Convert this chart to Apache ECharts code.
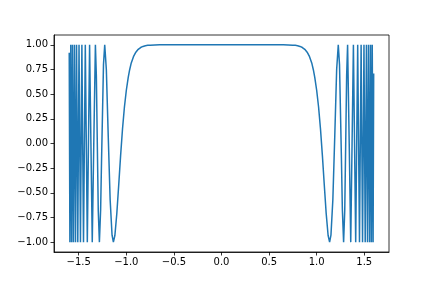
<!DOCTYPE html>
<html>
<head>
<meta charset="utf-8">
<script src="https://cdn.jsdelivr.net/npm/echarts@6/dist/echarts.min.js"></script>
<style>html,body{margin:0;padding:0;background:#fff}#c{width:432px;height:288px}</style>
</head>
<body>
<div id="c"></div>
<script>
// Curve samples (x, y)
const xValues = [
  -1.600, -1.593, -1.584, -1.575, -1.566, -1.556, -1.545, -1.534, -1.523, -1.510,
  -1.497, -1.482, -1.467, -1.450, -1.431, -1.410, -1.386, -1.372, -1.358, -1.342,
  -1.325, -1.315, -1.305, -1.295, -1.283, -1.270, -1.260, -1.240, -1.227, -1.210,
  -1.190, -1.170, -1.150, -1.136, -1.120, -1.100, -1.080, -1.060, -1.040, -1.020,
  -1.000, -0.980, -0.965, -0.950, -0.925, -0.900, -0.875, -0.850, -0.825, -0.800,
  -0.775, -0.750, -0.700, -0.650, -0.600, 0.000,
  0.600, 0.650, 0.700, 0.750, 0.775, 0.800, 0.825, 0.850, 0.875, 0.900,
  0.925, 0.950, 0.965, 0.980, 1.000, 1.020,
  1.040, 1.060, 1.080, 1.100, 1.120, 1.136, 1.150, 1.170, 1.190, 1.210,
  1.227, 1.240, 1.260, 1.270, 1.283, 1.295, 1.305, 1.315, 1.325, 1.342,
  1.358, 1.372, 1.386, 1.410, 1.431, 1.450, 1.467, 1.482, 1.497, 1.510,
  1.523, 1.534, 1.545, 1.556, 1.566, 1.575, 1.584, 1.593, 1.599
];
const yValues = [
  0.92, -1, 1, -1, 1, -1, 1, -1, 1, -1,
  1, -1, 1, -1, 1, -1, 1, 0, -1, 0,
  1, 0.69, 0, -0.68, -1, -0.67, -0.15, 0.80, 1, 0.75,
  0.07, -0.57, -0.93, -1, -0.93, -0.71, -0.42, -0.12, 0.15, 0.37,
  0.54, 0.67, 0.748, 0.81, 0.880, 0.926, 0.955, 0.973, 0.984, 0.991,
  0.995, 0.997, 0.999, 1, 1, 1,
  1, 1, 0.999, 0.997, 0.995, 0.991, 0.984, 0.973, 0.955, 0.926,
  0.880, 0.81, 0.748, 0.67, 0.54, 0.37,
  0.15, -0.12, -0.42, -0.71, -0.93, -1, -0.93, -0.57, 0.07, 0.75,
  1, 0.80, -0.15, -0.67, -1, -0.68, 0, 0.69, 1, 0,
  -1, 0, 1, -1, 1, -1, 1, -1, 1, -1,
  1, -1, 1, -1, 1, -1, 1, -1, 0.71
];
const xTicks = [-1.5, -1.0, -0.5, 0.0, 0.5, 1.0, 1.5];
const yTicks = [-1.0, -0.75, -0.5, -0.25, 0.0, 0.25, 0.5, 0.75, 1.0];

const fmt = (v, d) => { const s = Math.abs(v).toFixed(d); return (v < -1e-9 ? '\u2212' : '') + s; };
const pts = xValues.map((x, i) => [x, yValues[i]]);

const chart = echarts.init(document.getElementById('c'), null, {renderer: 'canvas'});
const axisCommon = {
  type: 'value',
  splitLine: {show: false},
  axisLine: {show: true, onZero: false, lineStyle: {color: '#000', width: 0.8}},
  axisTick: {show: true, inside: false, length: 3.5, lineStyle: {color: '#000', width: 0.8}},
};
chart.setOption({
  animation: false,
  backgroundColor: '#fff',
  grid: {left: 54, right: 43, top: 35, bottom: 36, show: true, borderColor: '#000', borderWidth: 0.8, backgroundColor: 'transparent'},
  xAxis: Object.assign({}, axisCommon, {
    min: -1.76, max: 1.76,
    axisTick: Object.assign({}, axisCommon.axisTick, {customValues: xTicks}),
    axisLabel: {customValues: xTicks, formatter: v => fmt(v, 1), margin: 5, color: '#000', fontFamily: 'DejaVu Sans', fontSize: 10},
  }),
  yAxis: Object.assign({}, axisCommon, {
    min: -1.1, max: 1.1,
    axisTick: Object.assign({}, axisCommon.axisTick, {customValues: yTicks}),
    axisLabel: {customValues: yTicks, formatter: v => fmt(v, 2), margin: 6, color: '#000', fontFamily: 'DejaVu Sans', fontSize: 10},
  }),
  series: [{
    type: 'line',
    data: pts,
    showSymbol: false,
    symbol: 'none',
    smooth: false,
    lineStyle: {color: '#1f77b4', width: 1.5},
  }]
});
</script>
</body>
</html>
